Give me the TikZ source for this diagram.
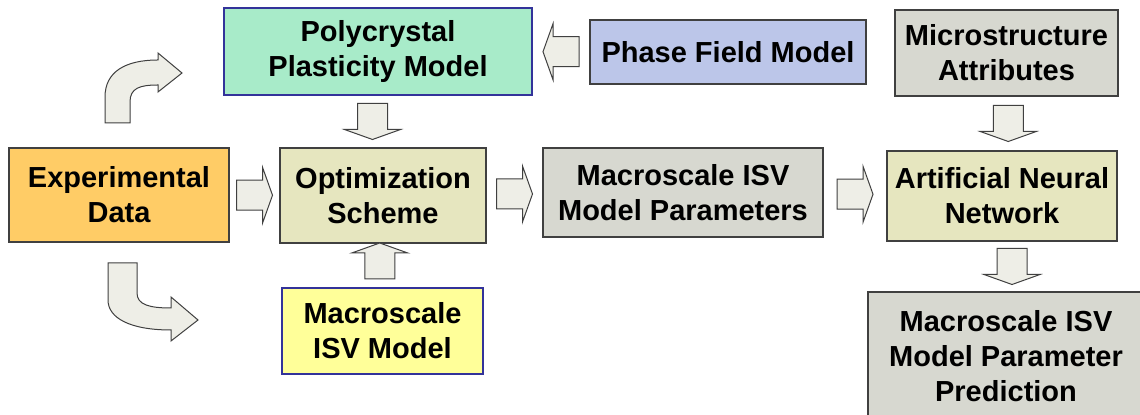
\documentclass[tikz,border=0pt]{standalone}
\usepackage{fontspec}
\setmainfont{Liberation Sans}
\usetikzlibrary{calc}
\definecolor{edge}{HTML}{404040}
\definecolor{navy}{HTML}{33339A}
\definecolor{mint}{HTML}{A8EBC9}
\definecolor{lilac}{HTML}{BCC6E9}
\definecolor{stone}{HTML}{D7D8D0}
\definecolor{amber}{HTML}{FFCC66}
\definecolor{olive}{HTML}{E6E6BF}
\definecolor{lemon}{HTML}{FFFF99}
\definecolor{arrowfill}{HTML}{EEEEE7}
\tikzset{every node/.style={rectangle,draw=edge,line width=0.6pt,align=center,inner sep=0pt,font=\bfseries\fontsize{14.5}{17.5}\selectfont}}
\tikzset{mn/.style={fill=mint,draw=navy}}
\tikzset{li/.style={fill=lilac}}
\tikzset{st/.style={fill=stone}}
\tikzset{am/.style={fill=amber}}
\tikzset{ol/.style={fill=olive}}
\tikzset{le/.style={fill=lemon,draw=navy}}
\tikzset{blockarrow/.pic={\draw[fill=arrowfill,draw=edge,line width=0.5pt] (-18,-15) -- (8,-15) -- (8,-28) -- (18,0) -- (8,28) -- (8,15) -- (-18,15) -- cycle;}}

\begin{document}
\begin{tikzpicture}[x=0.5pt,y=-0.5pt]
\clip (0,0) rectangle (1140,415);
\fill[white] (0,0) rectangle (1140,415);
\node[mn,minimum width=154pt,minimum height=43.5pt](poly) at (378,51.5) {Polycrystal\\Plasticity Model};
\node[li,minimum width=138pt,minimum height=32pt](phase) at (728,52) {Phase Field Model};
\node[st,minimum width=111.5pt,minimum height=43pt](micro) at (1006.5,53) {Microstructure\\Attributes};
\node[am,minimum width=110pt,minimum height=47pt](exp) at (119,195) {Experimental\\Data};
\node[ol,minimum width=103pt,minimum height=47.5pt](opt) at (383,195.5) {Optimization\\Scheme};
\node[st,minimum width=140pt,minimum height=44.5pt](params) at (683,192.5) {Macroscale ISV\\Model Parameters};
\node[ol,minimum width=115pt,minimum height=45pt](ann) at (1002,196) {Artificial Neural\\Network};
\node[le,minimum width=100.5pt,minimum height=43pt](isv) at (382.5,331) {Macroscale\\ISV Model};
\node[st,minimum width=138pt,minimum height=64pt](pred) at (1006,356) {Macroscale ISV\\Model Parameter\\Prediction};

\pic at ($(exp.east)!0.5!(opt.west)$) {blockarrow};
\pic at ($(opt.east)!0.5!(params.west)$) {blockarrow};
\pic at ($(params.east)!0.5!(ann.west)$) {blockarrow};
\pic[rotate=180] at ($(poly.east)!0.5!(phase.west)$) {blockarrow};
\pic[rotate=-90] at ($(poly.south)!0.5!(opt.north)+(-8,0)$) {blockarrow};
\pic[rotate=90] at ($(isv.south)!0.5!(opt.north)+(-3,0)$) {blockarrow};
\pic[rotate=-90] at ($(micro.south)!0.5!(ann.north)+(4,0)$) {blockarrow};
\pic[rotate=-90] at ($(ann.south)!0.5!(pred.north)+(8,0)$) {blockarrow};

% curved arrows next to the experimental data
\draw[fill=arrowfill,draw=edge,line width=0.5pt] (105,123) -- (105,97) .. controls (105,72) and (125,60) .. (158,60) -- (158,53) -- (182,73) -- (158,92) -- (158,85) .. controls (140,85) and (130,88) .. (130,102) -- (130,123) -- cycle;
\draw[fill=arrowfill,draw=edge,line width=0.5pt] (108,263) -- (108,300) .. controls (108,318) and (130,330) .. (171,330) -- (171,341) -- (198,320) -- (171,297) -- (171,308) .. controls (150,308) and (137,305) .. (137,293) -- (137,263) -- cycle;
\end{tikzpicture}
\end{document}
